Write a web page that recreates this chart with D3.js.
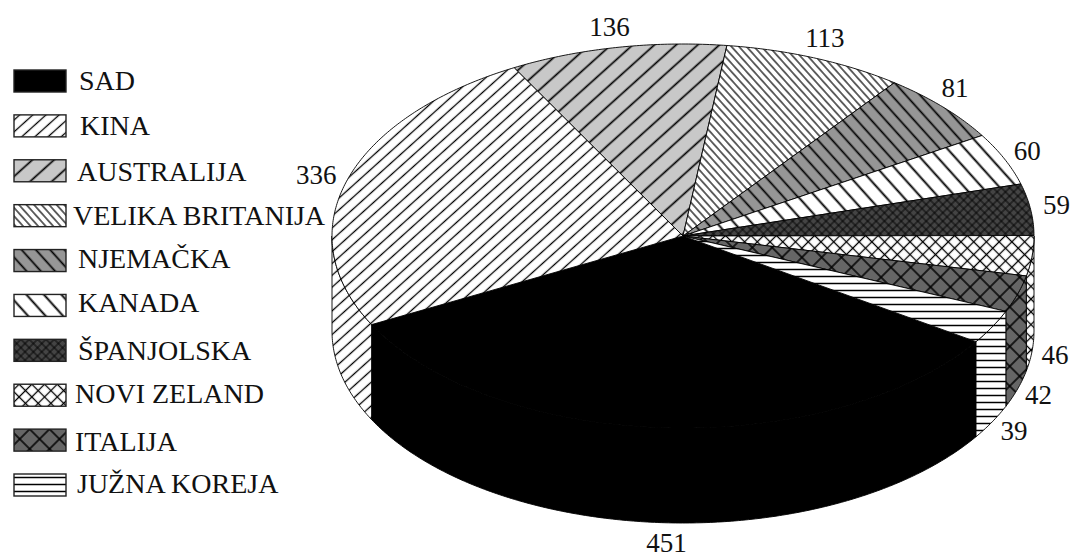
<!DOCTYPE html>
<html>
<head>
<meta charset="utf-8">
<script src="https://cdnjs.cloudflare.com/ajax/libs/d3/7.8.5/d3.min.js"></script>
<style>
  html, body { margin: 0; padding: 0; background: #fff; }
  svg { display: block; }
  text { font-family: "Liberation Serif", serif; fill: #111; }
</style>
</head>
<body>
<script>
(() => {
  // Data
  const countries = ['SAD', 'KINA', 'AUSTRALIJA', 'VELIKA BRITANIJA', 'NJEMAČKA', 'KANADA',
    'ŠPANJOLSKA', 'NOVI ZELAND', 'ITALIJA', 'JUŽNA KOREJA'];
  const values = [451, 336, 136, 113, 81, 60, 59, 46, 42, 39];

  // Constants
  const WIDTH = 1075;
  const HEIGHT = 559;
  const TAU = Math.PI * 2;
  const DEPTH = 95;
  const START_ANGLE = (123.4 / 360) * TAU;

  // hatch per country: bg, perpendicular period, line width, rotation, crossed or not
  const hatches = [
    { bg: '#000', p: 10, w: 0, rot: 0 },
    { bg: '#fff', p: 8.8, w: 1.3, rot: 48 },
    { bg: '#c8c8c8', p: 14.5, w: 1.7, rot: 48 },
    { bg: '#fff', p: 5.6, w: 1.2, rot: -42 },
    { bg: '#969696', p: 10.6, w: 1.7, rot: -42 },
    { bg: '#fff', p: 13, w: 1.9, rot: -42 },
    { bg: '#444', p: 5.9, w: 0.9, rot: 45, cross: true },
    { bg: '#fff', p: 9, w: 1.3, rot: 45, cross: true },
    { bg: '#666', p: 14, w: 1.5, rot: 45, cross: true },
    { bg: '#fff', p: 7, w: 1.5, rot: 90 }
  ];

  // legend rows, the original text is not quite aligned
  const legendTextX = [79, 80, 77, 73, 78, 78, 78, 75, 75, 77];
  const legendTextNudge = [0, 0, 1, 0, -2, -2, 1, -1, 2, -1];

  // value labels do not sit exactly on the radial offset
  const labelNudgeX = [3, -6, -3, 0, -7, -1, 0, -3, -4, -1];
  const labelNudgeY = [0, 0, -1, -2, -6, 0, -2, 2, 0, -1];

  const svg = d3.select('body').append('svg')
    .attr('width', WIDTH)
    .attr('height', HEIGHT)
    .attr('viewBox', `0 0 ${WIDTH} ${HEIGHT}`);

  // Patterns
  const defs = svg.append('defs');
  hatches.forEach((h, i) => {
    if (h.w === 0) return;
    const pat = defs.append('pattern')
      .attr('id', `hatch${i}`)
      .attr('patternUnits', 'userSpaceOnUse')
      .attr('width', h.p)
      .attr('height', h.p)
      .attr('patternTransform', `rotate(${h.rot})`);
    pat.append('rect').attr('width', h.p).attr('height', h.p).attr('fill', h.bg);
    pat.append('line')
      .attr('x1', h.p / 2).attr('x2', h.p / 2)
      .attr('y1', 0).attr('y2', h.p)
      .attr('stroke', '#000').attr('stroke-width', h.w);
    if (h.cross) {
      pat.append('line')
        .attr('x1', 0).attr('x2', h.p)
        .attr('y1', h.p / 2).attr('y2', h.p / 2)
        .attr('stroke', '#000').attr('stroke-width', h.w);
    }
  });
  const fillOf = (i) => (hatches[i].w === 0 ? hatches[i].bg : `url(#hatch${i})`);

  // Scales: unit circle to the tilted ellipse
  const x = d3.scaleLinear().domain([-1, 1]).range([332, 1034]);
  const y = d3.scaleLinear().domain([-1, 1]).range([44, 428]);
  const line = d3.line();

  const rim = (a, drop = 0) => [x(Math.sin(a)), y(-Math.cos(a)) + drop];
  const arcPoints = (a0, a1, drop = 0) => {
    const n = Math.max(2, Math.ceil((a1 - a0) / 0.01));
    return d3.range(n + 1).map((i) => rim(a0 + ((a1 - a0) * i) / n, drop));
  };

  const slices = d3.pie()
    .sort(null)
    .startAngle(START_ANGLE)
    .endAngle(START_ANGLE + TAU)(values);

  // Side wall, only the front half of the rim is visible
  const wall = svg.append('g');
  slices.forEach((d) => {
    [0, TAU].forEach((turn) => {
      const a0 = Math.max(d.startAngle, TAU / 4 + turn);
      const a1 = Math.min(d.endAngle, (TAU * 3) / 4 + turn);
      if (a1 <= a0) return;
      const pts = arcPoints(a0, a1).concat(arcPoints(a0, a1, DEPTH).reverse());
      wall.append('path')
        .attr('d', line(pts) + 'Z')
        .attr('fill', fillOf(d.index))
        .attr('stroke', '#000')
        .attr('stroke-width', 0.9);
    });
  });

  // Top face
  svg.append('g')
    .selectAll('path')
    .data(slices)
    .join('path')
    .attr('d', (d) => line([[x(0), y(0)], ...arcPoints(d.startAngle, d.endAngle)]) + 'Z')
    .attr('fill', (d) => fillOf(d.index))
    .attr('stroke', '#000')
    .attr('stroke-width', 0.9);

  // Value labels, pushed out from the rim
  svg.append('g')
    .selectAll('text')
    .data(slices)
    .join('text')
    .attr('x', (d) => {
      const mid = (d.startAngle + d.endAngle) / 2;
      return rim(mid)[0] + 26 * Math.sin(mid) + labelNudgeX[d.index];
    })
    .attr('y', (d) => {
      const mid = (d.startAngle + d.endAngle) / 2;
      const onFront = Math.sin(mid - TAU / 4) > 0;
      return rim(mid, onFront ? DEPTH : 0)[1] - 20 * Math.cos(mid) + labelNudgeY[d.index];
    })
    .attr('dy', '0.35em')
    .attr('text-anchor', 'middle')
    .attr('font-size', 27)
    .text((d) => d.data);

  // Legend
  const rowY = d3.scaleLinear().domain([0, 9]).range([70, 474]);
  const legend = svg.append('g')
    .selectAll('g')
    .data(countries)
    .join('g')
    .attr('transform', (d, i) => `translate(0, ${rowY(i)})`);

  legend.append('rect')
    .attr('x', 14)
    .attr('width', 52)
    .attr('height', 22)
    .attr('fill', (d, i) => fillOf(i))
    .attr('stroke', '#222')
    .attr('stroke-width', 1.4);

  legend.append('text')
    .attr('x', (d, i) => legendTextX[i])
    .attr('y', (d, i) => 20 + legendTextNudge[i])
    .attr('font-size', 28)
    .text((d) => d);
})();
</script>
</body>
</html>
